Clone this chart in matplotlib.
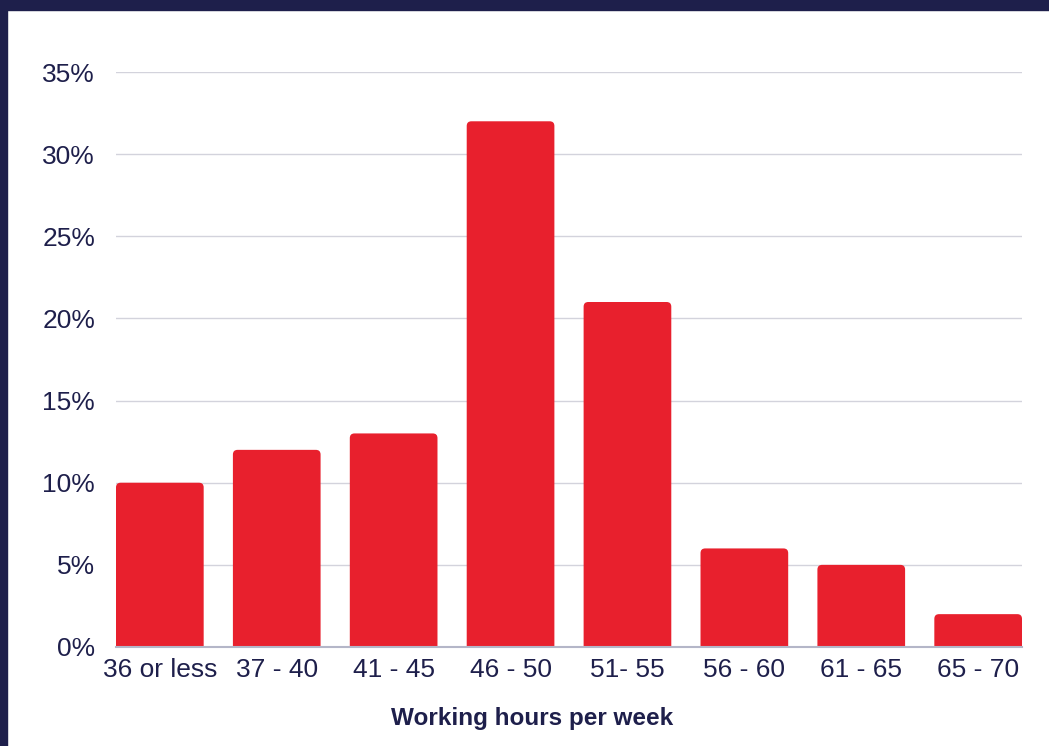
import matplotlib.pyplot as plt
from matplotlib.patches import FancyBboxPatch, Rectangle

categories = ["36 or less", "37 - 40", "41 - 45", "46 - 50", "51- 55", "56 - 60", "61 - 65", "65 - 70"]
shares = [10, 12, 13, 32, 21, 6, 5, 2]
y_ticks = [0, 5, 10, 15, 20, 25, 30, 35]

navy = "#1e1f4b"
red = "#e8202d"

plt.rcParams["font.family"] = ["Liberation Sans", "DejaVu Sans"]

fig = plt.figure(figsize=(10.49, 7.46), dpi=100)
fig.patch.set_facecolor("white")
# dark frame on the top and left edge
fig.patches.append(Rectangle((0, 0), 7 / 1049, 1, transform=fig.transFigure, color=navy, zorder=5))
fig.patches.append(Rectangle((0, 1 - 10 / 746), 1, 10 / 746, transform=fig.transFigure, color=navy, zorder=5))

ax = fig.add_axes([116 / 1049, 99 / 746, 906 / 1049, 575 / 746])

width = 0.75
bars = ax.bar(range(len(categories)), shares, width=width, color="none")

# rounded tops: draw boxes that start below zero so only the top corners show
aspect = (5 / 82.1) / (1 / 116.9)
for b in bars:
    x0 = b.get_x()
    h = b.get_height()
    box = FancyBboxPatch((x0, -2), width, h + 2,
                         boxstyle="round,pad=0,rounding_size=0.04",
                         mutation_aspect=aspect,
                         facecolor=red, edgecolor="none", zorder=3)
    ax.add_patch(box)

ax.set_xlim(-width / 2, len(categories) - 1 + width / 2)
ax.set_ylim(0, 35)
ax.set_yticks(y_ticks)
ax.set_yticklabels([f"{v}%" for v in y_ticks])
ax.set_xticks(range(len(categories)))
ax.set_xticklabels(categories)

ax.grid(axis="y", color="#d3d3dc", linewidth=1, zorder=0)
ax.set_axisbelow(True)
for s in ["top", "right", "left"]:
    ax.spines[s].set_visible(False)
ax.spines["bottom"].set_color("#b4b6c8")
ax.spines["bottom"].set_linewidth(1.5)
ax.spines["bottom"].set_zorder(4)

ax.tick_params(axis="both", length=0, labelsize=19, labelcolor=navy)
ax.tick_params(axis="y", pad=15)
ax.tick_params(axis="x", pad=8)

ax.set_xlabel("Working hours per week", fontsize=17.5, fontweight="bold", color=navy, va="center")
ax.xaxis.set_label_coords(0.459, -0.1235)

fig.savefig("out.png", dpi=100)
